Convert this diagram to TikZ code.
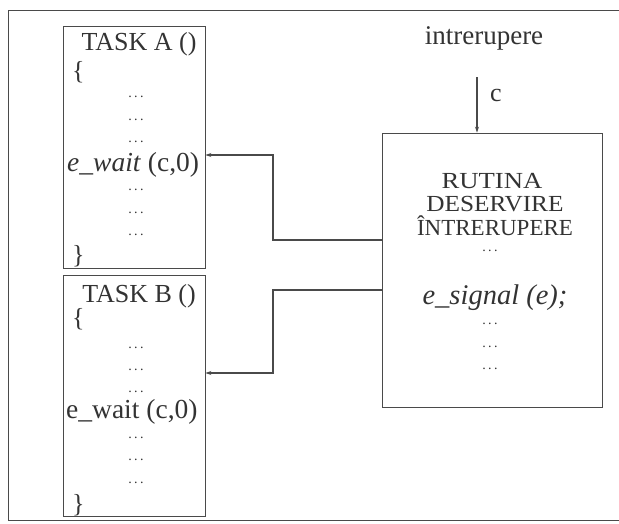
\documentclass[tikz,border=0pt]{standalone}
\usepackage{fontspec}
\setmainfont{Liberation Serif}
\usetikzlibrary{arrows.meta}
\definecolor{ink}{HTML}{333333}
\definecolor{edge}{HTML}{4A4A4A}
\tikzset{
  txt/.style={font=\fontsize{26}{28}\selectfont, text=ink, inner sep=0pt},
  big/.style={font=\fontsize{27.5}{29}\selectfont, text=ink, inner sep=0pt},
  capline/.style={font=\fontsize{23}{25}\selectfont, text=ink, inner sep=0pt,
    text height=15pt, text depth=0pt, anchor=base},
  dotsn/.style={font=\fontsize{14}{15}\selectfont, text=ink, inner sep=0pt,
    text height=2.5pt, text depth=0pt, anchor=base},
  box/.style={draw=edge, line width=0.8pt, inner sep=0pt},
  conn/.style={draw=edge, line width=1.1pt},
  tip/.style={-{Stealth[length=6pt,width=4pt]}}
}
\newcommand{\dd}{.\kern2.4pt.\kern2.4pt.}
\begin{document}
\begin{tikzpicture}[x=1pt,y=-1pt]
\useasboundingbox (0,0) rectangle (619,523);
% outer frame
\draw[edge, line width=1pt] (619,10) -- (8,10) -- (8,520) -- (619,520);
% boxes
\node[box, minimum width=142pt, minimum height=242pt] (taskA) at (134,147) {};
\node[box, minimum width=142pt, minimum height=241pt] (taskB) at (134,395.5) {};
\node[box, minimum width=220pt, minimum height=274pt] (rut) at (492,270) {};
% Task A text
\node[txt] (ta) at (139,44) {TASK A ()};
\node[txt, anchor=west] (tab1) at (72,72) {\{};
\node[dotsn] (ta1) at (136,97) {\dd};
\node[dotsn] (ta2) at (136,120) {\dd};
\node[dotsn] (ta3) at (136,142) {\dd};
\node[big, anchor=west] (taw) at (67,165) {\textit{e\_wait} (c,0)};
\node[dotsn] (ta4) at (136,190) {\dd};
\node[dotsn] (ta5) at (136,213) {\dd};
\node[dotsn] (ta6) at (136,235) {\dd};
\node[txt, anchor=west] (tab2) at (72,256) {\}};
% Task B text
\node[txt] (tb) at (139,296) {TASK B ()};
\node[txt, anchor=west] (tbb1) at (72,319) {\{};
\node[dotsn] (tb1) at (136,348) {\dd};
\node[dotsn] (tb2) at (136,370) {\dd};
\node[dotsn] (tb3) at (136,392) {\dd};
\node[big, anchor=west] (tbw) at (66,412) {e\_wait (c,0)};
\node[dotsn] (tb4) at (136,438) {\dd};
\node[dotsn] (tb5) at (136,460) {\dd};
\node[dotsn] (tb6) at (136,483) {\dd};
\node[txt, anchor=west] (tbb2) at (72,505) {\}};
% interrupt routine text
\node[capline] (r1) at (492,188) {\scalebox{1.16}[1]{RUTINA}};
\node[capline] (r2) at (495,211) {\scalebox{1.1}[1]{DESERVIRE}};
\node[capline] (r3) at (495,235) {\scalebox{1.0}[1]{ÎNTRERUPERE}};
\node[dotsn] (r4) at (490,251) {\dd};
\node[font=\fontsize{28.5}{30}\selectfont, text=ink, inner sep=0pt] (rs) at (495,298) {\textit{e\_signal (e);}};
\node[dotsn] (r5) at (490,324) {\dd};
\node[dotsn] (r6) at (490,347) {\dd};
\node[dotsn] (r7) at (490,369) {\dd};
% interrupt input
\node[font=\fontsize{27}{29}\selectfont, text=ink, inner sep=0pt] (intr) at (484,38) {intrerupere};
\coordinate (istart) at (477,77);
\draw[conn, tip] (istart) -- (rut.north -| istart);
\node[txt, anchor=west] (clab) at (490,95) {c};
% connectors
\coordinate (yA) at (273,240);
\coordinate (yA2) at (273,155);
\draw[conn, tip] (rut.west |- yA) -- (yA) -- (yA2) -- (taskA.east |- yA2);
\coordinate (yB) at (273,290);
\coordinate (yB2) at (273,373);
\draw[conn, tip] (rut.west |- yB) -- (yB) -- (yB2) -- (taskB.east |- yB2);
\end{tikzpicture}
\end{document}
